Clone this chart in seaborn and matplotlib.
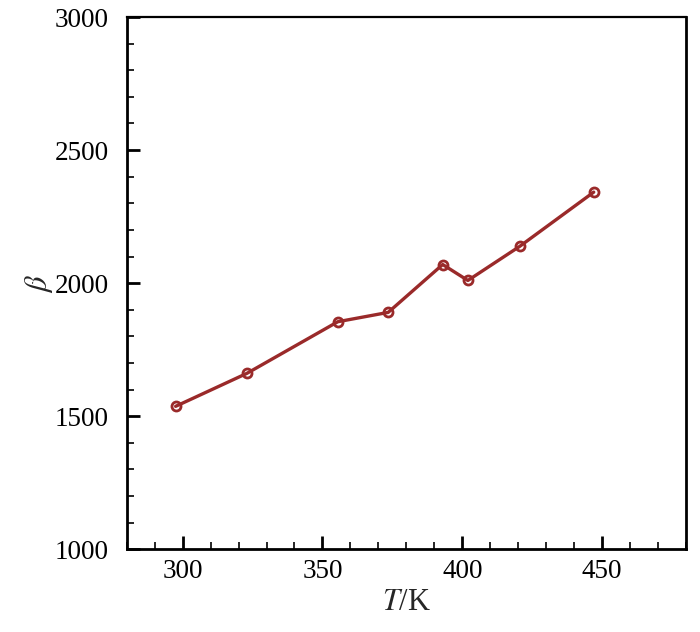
import matplotlib
matplotlib.use("Agg")
import matplotlib.pyplot as plt
import seaborn as sns
import pandas as pd
from matplotlib.ticker import MultipleLocator

T = [297.5, 323, 355.5, 373.5, 393, 402, 420.5, 447]
beta = [1537, 1661, 1855, 1890, 2070, 2010, 2138, 2342]
xticks = [300, 350, 400, 450]
yticks = [1000, 1500, 2000, 2500, 3000]

sns.set_theme(style="white")
plt.rcParams['font.family'] = ['Liberation Serif', 'DejaVu Serif']
plt.rcParams['mathtext.fontset'] = 'stix'

df = pd.DataFrame({"T": T, "beta": beta})
fig = plt.figure(figsize=(7.0, 6.32), dpi=100)
ax = fig.add_axes([0.181, 0.131, 0.799, 0.842])
color = "#9a2a2a"
sns.lineplot(data=df, x="T", y="beta", ax=ax, color=color, linewidth=2.4,
             marker="o", markersize=6.5, markerfacecolor="none",
             markeredgecolor=color, markeredgewidth=2.0)

ax.set_xlim(280, 480)
ax.set_ylim(1000, 3000)
ax.set_xticks(xticks)
ax.set_yticks(yticks)
ax.xaxis.set_minor_locator(MultipleLocator(10))
ax.yaxis.set_minor_locator(MultipleLocator(100))
ax.tick_params(axis='both', which='both', bottom=True, left=True, top=False, right=False)
ax.tick_params(axis='both', which='major', direction='in', length=9.5, width=2,
               labelsize=19.5, colors='black')
ax.tick_params(axis='both', which='minor', direction='in', length=5, width=1.2,
               colors='black')
ax.tick_params(axis='y', which='major', pad=13)
ax.tick_params(axis='x', which='major', pad=7)
for sp in ax.spines.values():
    sp.set_visible(True)
    sp.set_color('black')
    sp.set_linewidth(2)
ax.spines['top'].set_linewidth(1.6)
ax.grid(False)
ax.set_xlabel(r"$T$/K", fontsize=22, labelpad=3)
ax.set_ylabel(r"$\beta$", fontsize=22, labelpad=0)
fig.savefig("out.png", dpi=100, facecolor="white")
